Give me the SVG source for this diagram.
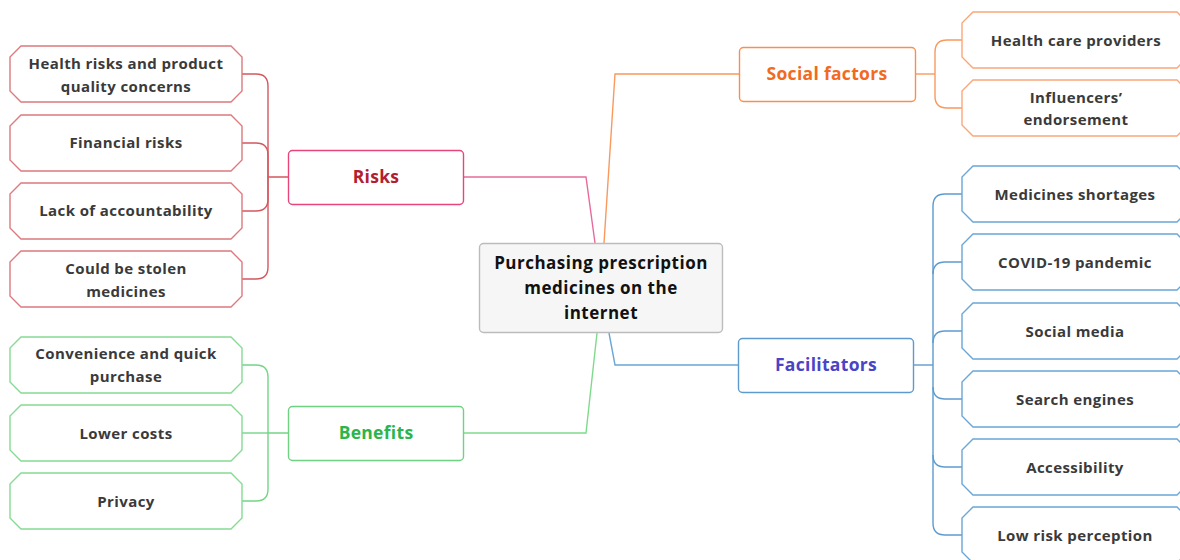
<svg xmlns="http://www.w3.org/2000/svg" width="1180" height="560" viewBox="0 0 1180 560">
<style>
text{font-family:"Open Sans","Noto Sans","Liberation Sans",sans-serif;font-weight:bold;text-anchor:middle}
.leaf{fill:#fff;stroke-width:1.4}
.lt{font-size:15px;letter-spacing:0.4px;fill:#3a3a3a}
.bt{font-size:17.5px;letter-spacing:0.3px}
.ct{font-size:17px;letter-spacing:0.5px;fill:#111}
.br{fill:#fff;stroke-width:1.4}
.c{fill:none;stroke-width:1.4}
.risk{stroke:#dc7a7e}.riskc{stroke:#d4585f}
.ben{stroke:#86da94}.benc{stroke:#74d586}
.soc{stroke:#f9a77a}.socc{stroke:#f9995e}
.fac{stroke:#6aa6d6}.facc{stroke:#5d9bcf}
</style>
<defs>
<path id="lleaf" d="M11,0 H221 L232,11 V45 L221,56 H11 L0,45 V11 Z"/>
<path id="rleaf" d="M11,0 H215 L226,11 V45 L215,56 H11 L0,45 V11 Z"/>
</defs>
<rect width="1180" height="560" fill="#fff"/>
<g id="connectors">
<path class="c" stroke="#e86a9a" d="M463,177 H586 L595,243"/>
<path class="c" stroke="#7fda8c" d="M463,433 H586 L597,333"/>
<path class="c" stroke="#f9995e" d="M604,243 L615,74 H739"/>
<path class="c" stroke="#6aa6d6" d="M609,333 L615,365 H738"/>
<g class="riskc">
<path class="c" d="M242,74 H256 Q268,74 268,86 V177 H288"/>
<path class="c" d="M242,143 H256 Q268,143 268,155 V177"/>
<path class="c" d="M242,211 H256 Q268,211 268,199 V177"/>
<path class="c" d="M242,279 H256 Q268,279 268,267 V177"/>
</g>
<g class="benc">
<path class="c" d="M242,365 H256 Q268,365 268,377 V433 H288"/>
<path class="c" d="M242,433 H268"/>
<path class="c" d="M242,501 H256 Q268,501 268,489 V433"/>
</g>
<g class="socc">
<path class="c" d="M915,74 H935"/>
<path class="c" d="M962,40 H947 Q935,40 935,52 V96 Q935,108 947,108 H962"/>
</g>
<g class="facc">
<path class="c" d="M913,365 H933"/>
<path class="c" d="M962,194 H945 Q933,194 933,206 V523 Q933,535 945,535 H962"/>
<path class="c" d="M962,262 H945 Q933,262 933,274"/>
<path class="c" d="M962,331 H945 Q933,331 933,343"/>
<path class="c" d="M962,399 H945 Q933,399 933,387"/>
<path class="c" d="M962,467 H945 Q933,467 933,455"/>
</g>
</g>
<g id="center">
<rect x="479.5" y="243.5" width="243" height="89" rx="4" fill="#f6f6f6" stroke="#bcbcbc" stroke-width="1.4"/>
<text class="ct" x="601" y="269">Purchasing prescription</text>
<text class="ct" x="601" y="294">medicines on the</text>
<text class="ct" x="601" y="319">internet</text>
</g>
<g id="risks">
<rect class="br" x="288.5" y="150.5" width="175" height="54" rx="4" stroke="#e8457a"/>
<text class="bt" x="376" y="183" fill="#b3202c">Risks</text>
</g>
<g id="benefits">
<rect class="br" x="288.5" y="406.5" width="175" height="54" rx="4" stroke="#6fd283"/>
<text class="bt" x="376" y="439" fill="#2bb54a">Benefits</text>
</g>
<g id="social">
<rect class="br" x="739.5" y="47.5" width="176" height="54" rx="4" stroke="#f7904f"/>
<text class="bt" x="827" y="80" fill="#f26a21">Social factors</text>
</g>
<g id="facilitators">
<rect class="br" x="738.5" y="338.5" width="175" height="54" rx="4" stroke="#5d9bcf"/>
<text class="bt" x="826" y="371" fill="#4a44c6">Facilitators</text>
</g>
<g id="leaf-health-risks">
<use href="#lleaf" x="10" y="46" class="leaf risk"/>
<text class="lt" x="126" y="69">Health risks and product</text>
<text class="lt" x="126" y="92">quality concerns</text>
</g>
<g id="leaf-financial">
<use href="#lleaf" x="10" y="115" class="leaf risk"/>
<text class="lt" x="126" y="148">Financial risks</text>
</g>
<g id="leaf-accountability">
<use href="#lleaf" x="10" y="183" class="leaf risk"/>
<text class="lt" x="126" y="216">Lack of accountability</text>
</g>
<g id="leaf-stolen">
<use href="#lleaf" x="10" y="251" class="leaf risk"/>
<text class="lt" x="126" y="274">Could be stolen</text>
<text class="lt" x="126" y="297">medicines</text>
</g>
<g id="leaf-convenience">
<use href="#lleaf" x="10" y="337" class="leaf ben"/>
<text class="lt" x="126" y="359">Convenience and quick</text>
<text class="lt" x="126" y="382">purchase</text>
</g>
<g id="leaf-lower-costs">
<use href="#lleaf" x="10" y="405" class="leaf ben"/>
<text class="lt" x="126" y="439">Lower costs</text>
</g>
<g id="leaf-privacy">
<use href="#lleaf" x="10" y="473" class="leaf ben"/>
<text class="lt" x="126" y="507">Privacy</text>
</g>
<g id="leaf-hcp">
<use href="#rleaf" x="962" y="12" class="leaf soc"/>
<text class="lt" x="1076" y="46">Health care providers</text>
</g>
<g id="leaf-influencers">
<use href="#rleaf" x="962" y="80" class="leaf soc"/>
<text class="lt" x="1076" y="103">Influencers’</text>
<text class="lt" x="1076" y="125">endorsement</text>
</g>
<g id="leaf-shortages">
<use href="#rleaf" x="962" y="166" class="leaf fac"/>
<text class="lt" x="1075" y="200">Medicines shortages</text>
</g>
<g id="leaf-covid">
<use href="#rleaf" x="962" y="234" class="leaf fac"/>
<text class="lt" x="1075" y="268">COVID-19 pandemic</text>
</g>
<g id="leaf-social-media">
<use href="#rleaf" x="962" y="303" class="leaf fac"/>
<text class="lt" x="1075" y="337">Social media</text>
</g>
<g id="leaf-search">
<use href="#rleaf" x="962" y="371" class="leaf fac"/>
<text class="lt" x="1075" y="405">Search engines</text>
</g>
<g id="leaf-accessibility">
<use href="#rleaf" x="962" y="439" class="leaf fac"/>
<text class="lt" x="1075" y="473">Accessibility</text>
</g>
<g id="leaf-low-risk">
<use href="#rleaf" x="962" y="507" class="leaf fac"/>
<text class="lt" x="1075" y="541">Low risk perception</text>
</g>
</svg>
